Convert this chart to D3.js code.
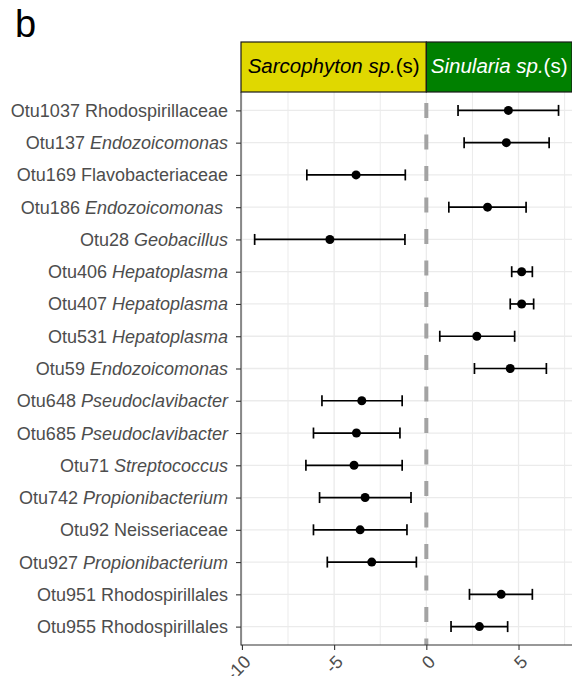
<!DOCTYPE html>
<html>
<head>
<meta charset="utf-8">
<script src="https://cdn.jsdelivr.net/npm/d3@7"></script>
<style>
  body { margin: 0; background: #fff; }
  text { font-family: "Liberation Sans", Arial, sans-serif; }
</style>
</head>
<body>
<div id="chart"></div>
<script>
// chart values
let otuIds = ["Otu1037", "Otu137", "Otu169", "Otu186", "Otu28", "Otu406", "Otu407", "Otu531",
              "Otu59", "Otu648", "Otu685", "Otu71", "Otu742", "Otu92", "Otu927", "Otu951", "Otu955"];
let taxa = ["Rhodospirillaceae", "Endozoicomonas", "Flavobacteriaceae", "Endozoicomonas ", "Geobacillus",
            "Hepatoplasma", "Hepatoplasma", "Hepatoplasma", "Endozoicomonas", "Pseudoclavibacter",
            "Pseudoclavibacter", "Streptococcus", "Propionibacterium", "Neisseriaceae", "Propionibacterium",
            "Rhodospirillales", "Rhodospirillales"];
let italicTaxon = [false, true, false, true, true, true, true, true, true, true, true, true, true, false, true, false, false];
let estimate = [4.45, 4.34, -3.81, 3.32, -5.23, 5.17, 5.17, 2.74, 4.55, -3.50, -3.79, -3.92, -3.32, -3.59, -2.96, 4.06, 2.88];
let lower = [1.72, 2.05, -6.48, 1.22, -9.31, 4.63, 4.55, 0.73, 2.61, -5.66, -6.12, -6.53, -5.79, -6.12, -5.37, 2.34, 1.34];
let upper = [7.17, 6.66, -1.14, 5.41, -1.16, 5.75, 5.82, 4.79, 6.51, -1.31, -1.43, -1.31, -0.83, -1.05, -0.54, 5.75, 4.41];
let xTicks = [-10, -5, 0, 5];
let xMinor = [-7.5, -2.5, 2.5, 7.5];
let groups = [
  {italic: "Sarcophyton sp.", plain: "(s)", from: -10.05, to: 0, fill: "#e0d800", color: "#000"},
  {italic: "Sinularia sp.", plain: "(s)", from: 0, to: 7.9, fill: "#008000", color: "#fff"}
];

let width = 572, height = 676;
let margin = {top: 92, right: 0, bottom: 31, left: 241};

let data = otuIds.map(function(id, i) {
  return {id: id, taxon: taxa[i], italic: italicTaxon[i], est: estimate[i], lo: lower[i], hi: upper[i]};
});

let svg = d3.select("#chart")
  .append("svg")
  .attr("width", width)
  .attr("height", height);

let x = d3.scaleLinear()
  .domain([-10.05, 7.9])
  .range([margin.left, width - margin.right]);

let y = d3.scalePoint()
  .domain(otuIds)
  .range([margin.top, height - margin.bottom])
  .padding(0.57);

// panel label
svg.append("text")
  .attr("x", 15)
  .attr("y", 37)
  .style("font-size", "38px")
  .text("b");

// grid
let grid = svg.append("g");
grid.selectAll(".minor").data(xMinor).enter()
  .append("line")
  .attr("x1", d => x(d)).attr("x2", d => x(d))
  .attr("y1", margin.top).attr("y2", height - margin.bottom)
  .attr("stroke", "#ebebeb").attr("stroke-width", 1);
grid.selectAll(".major").data(xTicks).enter()
  .append("line")
  .attr("x1", d => x(d)).attr("x2", d => x(d))
  .attr("y1", margin.top).attr("y2", height - margin.bottom)
  .attr("stroke", "#ebebeb").attr("stroke-width", 1.3);
grid.selectAll(".hgrid").data(otuIds).enter()
  .append("line")
  .attr("x1", margin.left).attr("x2", width)
  .attr("y1", d => y(d)).attr("y2", d => y(d))
  .attr("stroke", "#ebebeb").attr("stroke-width", 1.3);

// zero reference
svg.append("line")
  .attr("x1", x(0)).attr("x2", x(0))
  .attr("y1", margin.top + 11).attr("y2", height - margin.bottom)
  .attr("stroke", "#a3a3a3")
  .attr("stroke-width", 4)
  .attr("stroke-dasharray", "15,16.5");

// error bars
let bars = svg.append("g").selectAll("g").data(data).enter().append("g");
bars.append("line")
  .attr("x1", d => x(d.lo)).attr("x2", d => x(d.hi))
  .attr("y1", d => y(d.id)).attr("y2", d => y(d.id))
  .attr("stroke", "#000").attr("stroke-width", 1.7);
bars.append("line")
  .attr("x1", d => x(d.lo)).attr("x2", d => x(d.lo))
  .attr("y1", d => y(d.id) - 5.5).attr("y2", d => y(d.id) + 5.5)
  .attr("stroke", "#000").attr("stroke-width", 1.7);
bars.append("line")
  .attr("x1", d => x(d.hi)).attr("x2", d => x(d.hi))
  .attr("y1", d => y(d.id) - 5.5).attr("y2", d => y(d.id) + 5.5)
  .attr("stroke", "#000").attr("stroke-width", 1.7);
bars.append("circle")
  .attr("cx", d => x(d.est))
  .attr("cy", d => y(d.id))
  .attr("r", 4.5)
  .attr("fill", "#000");

// axes
let yAxis = svg.append("g")
  .attr("transform", `translate(${margin.left}, 0)`)
  .call(d3.axisLeft(y).tickSize(5).tickPadding(8).tickFormat(""));
yAxis.select(".domain").attr("stroke", "#333").attr("stroke-width", 1.1).attr("d", `M0,${margin.top}V${height - margin.bottom + 0.5}`);
yAxis.selectAll(".tick line").attr("stroke", "#333").attr("stroke-width", 1.1);

let yLabels = svg.append("g").selectAll("text").data(data).enter()
  .append("text")
  .attr("x", margin.left - 13)
  .attr("y", d => y(d.id))
  .attr("dy", "0.36em")
  .style("text-anchor", "end")
  .style("font-size", "18px")
  .style("white-space", "pre")
  .attr("fill", "#4d4d4d");
yLabels.append("tspan").text(d => d.id + " ");
yLabels.append("tspan")
  .style("font-style", d => d.italic ? "italic" : "normal")
  .text(d => d.taxon);

let xAxis = svg.append("g")
  .attr("transform", `translate(0, ${height - margin.bottom})`)
  .call(d3.axisBottom(x).tickValues(xTicks).tickSize(5).tickFormat(""));
xAxis.select(".domain").attr("stroke", "#333").attr("stroke-width", 1.1).attr("d", `M${margin.left},0H${width}`);
xAxis.selectAll(".tick line").attr("stroke", "#333").attr("stroke-width", 1.1);

svg.append("g").selectAll("text").data(xTicks).enter()
  .append("text")
  .attr("transform", d => `translate(${x(d) + 10}, ${height - margin.bottom + 18}) rotate(-45)`)
  .style("text-anchor", "end")
  .style("font-size", "18px")
  .attr("fill", "#4d4d4d")
  .text(d => d);

// strips
let strips = svg.append("g").selectAll("g").data(groups).enter().append("g");
strips.append("rect")
  .attr("x", d => x(d.from))
  .attr("y", 42)
  .attr("width", d => x(d.to) - x(d.from))
  .attr("height", margin.top - 42)
  .attr("fill", d => d.fill)
  .attr("stroke", "#1a1a1a")
  .attr("stroke-width", 1.2);
let stripText = strips.append("text")
  .attr("x", d => (x(d.from) + x(d.to)) / 2)
  .attr("y", 73)
  .style("text-anchor", "middle")
  .style("font-size", "20.5px")
  .attr("fill", d => d.color);
stripText.append("tspan").style("font-style", "italic").text(d => d.italic);
stripText.append("tspan").text(d => d.plain);
</script>
</body>
</html>
